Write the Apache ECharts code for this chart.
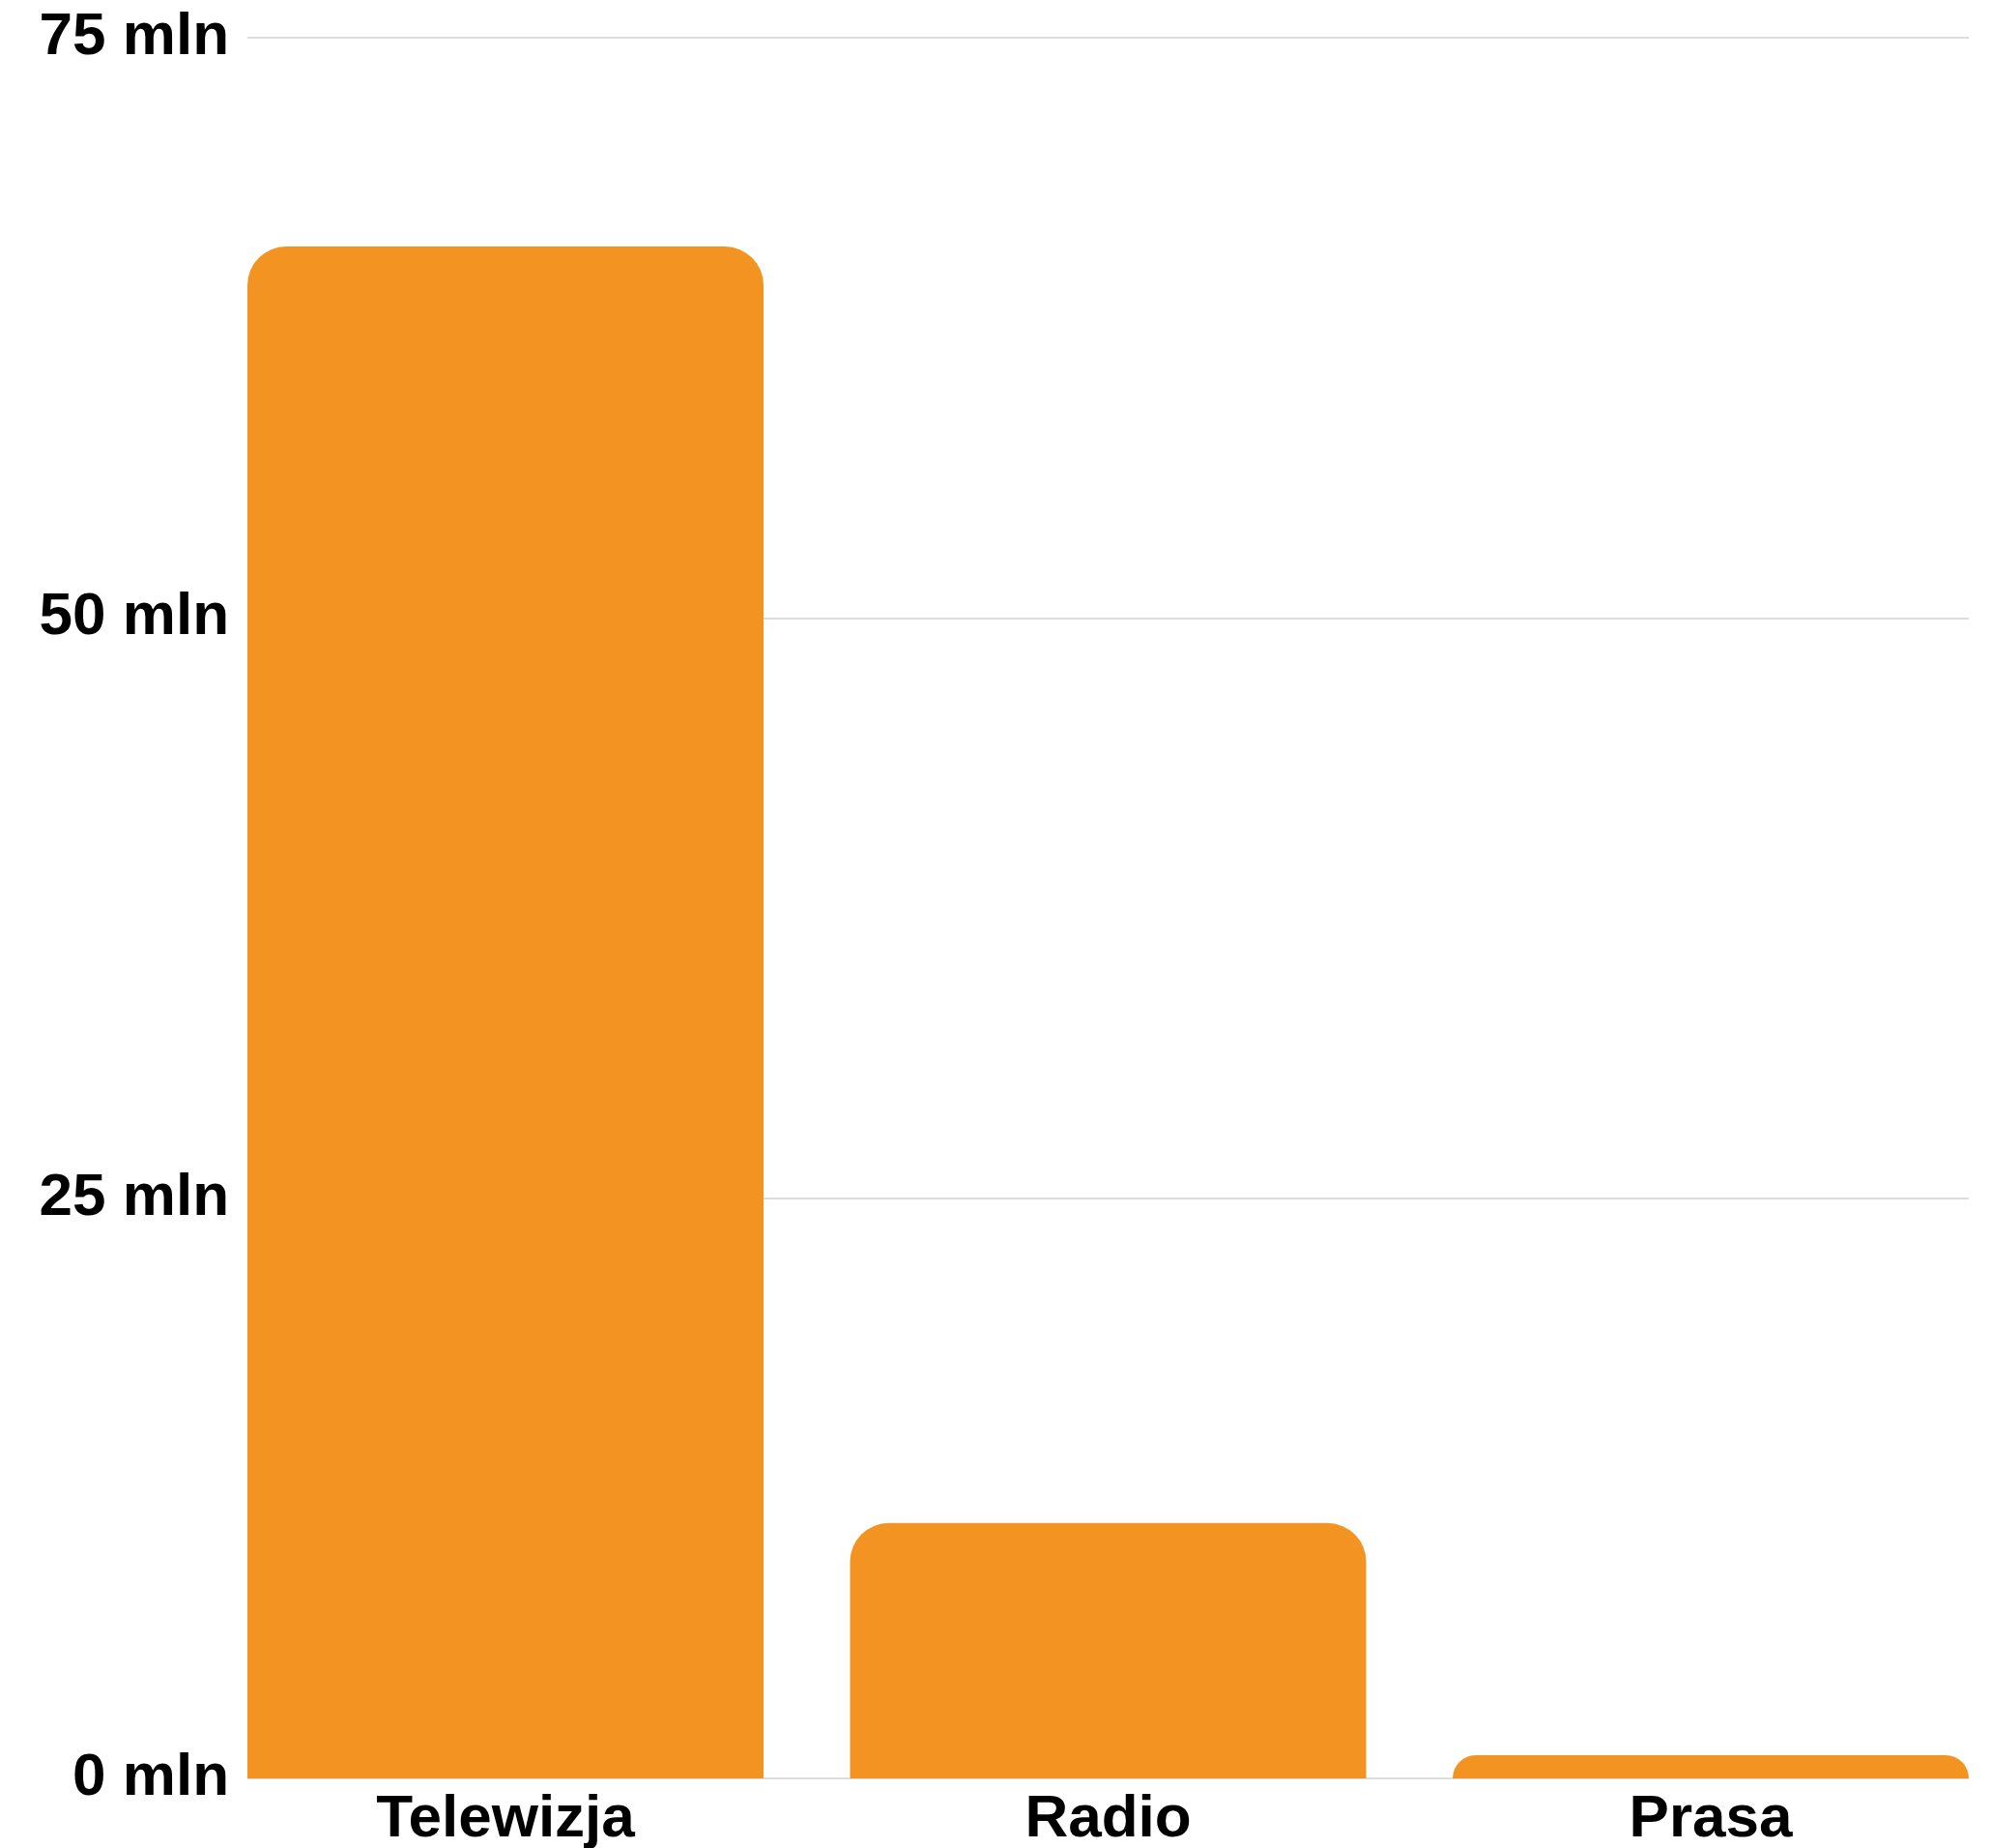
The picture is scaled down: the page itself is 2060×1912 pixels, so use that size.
<!DOCTYPE html>
<html>
<head>
<meta charset="utf-8">
<script src="https://cdn.jsdelivr.net/npm/echarts@6/dist/echarts.min.js"></script>
<style>
  html, body { margin: 0; padding: 0; background: #ffffff; }
  #chart { width: 2060px; height: 1912px; }
</style>
</head>
<body>
<div id="chart"></div>
<script>
// Audience reach by medium (millions)
const categories = ['Telewizja', 'Radio', 'Prasa'];
const reach = [66, 11, 1];
const axisMin = 0;
const axisMax = 75;
const axisStep = 25;
const unitSuffix = ' mln';

const barColor = '#F39321';
const textColor = '#000000';
const gridColor = '#dddddd';
const fontFamily = '"Liberation Sans", Arial, sans-serif';

const chart = echarts.init(document.getElementById('chart'), null, { renderer: 'canvas' });

chart.setOption({
  animation: false,
  backgroundColor: '#ffffff',
  grid: [
    // grid holding the value axis, its labels and horizontal rules
    { left: 256, right: 23, top: 39, bottom: 72, outerBoundsMode: 'none' },
    // grid holding the bars and category labels; its bands overhang the rules
    { left: 211.25, right: -21.75, top: 39, bottom: 72, outerBoundsMode: 'none' }
  ],
  xAxis: [
    { gridIndex: 0, type: 'category', data: categories, show: false },
    {
      gridIndex: 1,
      type: 'category',
      data: categories,
      axisLine: { show: false },
      axisTick: { show: false },
      axisLabel: {
        color: textColor,
        fontFamily: fontFamily,
        fontWeight: 'bold',
        fontSize: 62,
        margin: 12
      }
    }
  ],
  yAxis: [
    {
      gridIndex: 0,
      type: 'value',
      min: axisMin,
      max: axisMax,
      interval: axisStep,
      axisLine: { show: false },
      axisTick: { show: false },
      splitLine: { show: true, lineStyle: { color: gridColor, width: 2 } },
      axisLabel: {
        color: textColor,
        fontFamily: fontFamily,
        fontWeight: 'bold',
        fontSize: 62,
        margin: 19,
        lineHeight: 62,
        padding: [6, 0, 0, 0],
        formatter: (v) => v + unitSuffix
      }
    },
    {
      gridIndex: 1,
      type: 'value',
      min: axisMin,
      max: axisMax,
      interval: axisStep,
      show: false,
      splitLine: { show: false }
    }
  ],
  series: [
    {
      type: 'bar',
      xAxisIndex: 1,
      yAxisIndex: 1,
      data: reach,
      barWidth: 534,
      itemStyle: { color: barColor, borderRadius: [40, 40, 0, 0] }
    }
  ]
});
</script>
</body>
</html>
